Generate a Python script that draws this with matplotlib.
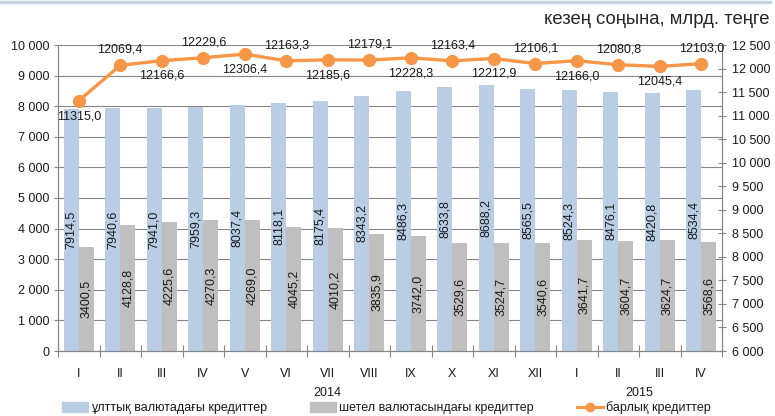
import matplotlib
matplotlib.use("Agg")
import matplotlib.pyplot as plt
from matplotlib.lines import Line2D
from matplotlib.patches import Patch
from matplotlib.ticker import FuncFormatter, MultipleLocator
import numpy as np

plt.rcParams["font.family"] = ["Liberation Sans", "DejaVu Sans"]

# Data
months = ["I", "II", "III", "IV", "V", "VI", "VII", "VIII", "IX", "X", "XI", "XII",
          "I", "II", "III", "IV"]
national = [7914.5, 7940.6, 7941.0, 7959.3, 8037.4, 8118.1, 8175.4, 8343.2, 8486.3,
            8633.8, 8688.2, 8565.5, 8524.3, 8476.1, 8420.8, 8534.4]
foreign = [3400.5, 4128.8, 4225.6, 4270.3, 4269.0, 4045.2, 4010.2, 3835.9, 3742.0,
           3529.6, 3524.7, 3540.6, 3641.7, 3604.7, 3624.7, 3568.6]
total = [11315.0, 12069.4, 12166.6, 12229.6, 12306.4, 12163.3, 12185.6, 12179.1,
         12228.3, 12163.4, 12212.9, 12106.1, 12166.0, 12080.8, 12045.4, 12103.0]
years = ["2014", "2015"]

legend_labels = ["ұлттық валютадағы кредиттер", "шетел валютасындағы кредиттер",
                 "барлық кредиттер"]

blue = "#B9CDE5"
gray = "#BFBFBF"
orange = "#F79646"
axis_col = "#868686"
text_col = "#1A1A1A"

fig = plt.figure(figsize=(7.75, 4.16), dpi=100)
ax = fig.add_axes([58 / 775, 1 - 351 / 416, (722 - 58) / 775, (351 - 45) / 416])
ax2 = ax.twinx()

x = np.arange(len(months))
w = 0.36
ax.bar(x - w / 2, national, w, color=blue, zorder=2)
ax.bar(x + w / 2, foreign, w, color=gray, zorder=2)

def fmt(v):
    return f"{v:.1f}".replace(".", ",")

for i in range(len(x)):
    ax.text(x[i] - w / 2, national[i] / 2, fmt(national[i]), rotation=90,
            ha="center", va="center", fontsize=9, color=text_col, zorder=3)
    ax.text(x[i] + w / 2, foreign[i] / 2, fmt(foreign[i]), rotation=90,
            ha="center", va="center", fontsize=9, color=text_col, zorder=3)

ax.set_xlim(-0.5, len(months) - 0.5)
ax.set_ylim(0, 10000)
ax.yaxis.set_major_locator(MultipleLocator(1000))
thousands = FuncFormatter(lambda v, p: f"{int(v):,}".replace(",", " "))
ax.yaxis.set_major_formatter(thousands)
ax.grid(axis="y", color=axis_col, linewidth=0.8, zorder=0)
ax.set_axisbelow(True)

# x axis: roman labels, boundary ticks
ax.set_xticks(x)
ax.set_xticklabels(months, fontsize=9, color=text_col)
ax.tick_params(axis="x", length=0, pad=12)
ax.set_xticks(np.arange(-0.5, len(months)), minor=True)
ax.tick_params(axis="x", which="minor", direction="inout", length=8,
               color=axis_col, width=0.8)
ax.tick_params(axis="y", direction="inout", length=6, color=axis_col, width=0.8,
               labelsize=9, labelcolor=text_col, pad=3)

for s in ["top"]:
    ax.spines[s].set_visible(False)
    ax2.spines[s].set_visible(False)
for s in ["left", "bottom", "right"]:
    ax.spines[s].set_color(axis_col)
    ax2.spines[s].set_color(axis_col)

ax.text(6.0, -1360, years[0], ha="center", va="center", fontsize=9, color=text_col)
ax.text(13.5, -1360, years[1], ha="center", va="center", fontsize=9, color=text_col)

# line on secondary axis
ax2.plot(x, total, color=orange, linewidth=2.4, marker="o", markersize=8.5, zorder=4)
ax2.set_ylim(6000, 12500)
ax2.yaxis.set_major_locator(MultipleLocator(500))
ax2.yaxis.set_major_formatter(thousands)
ax2.tick_params(axis="y", direction="inout", length=6, color=axis_col, width=0.8,
                labelsize=9, labelcolor=text_col, pad=4)

for i in range(len(x)):
    off = 11 if i % 2 == 1 else -11
    ax2.annotate(fmt(total[i]), (x[i], total[i]), xytext=(0, off),
                 textcoords="offset points", ha="center", va="center",
                 fontsize=9, color=text_col, zorder=5)

fig.text(770 / 775, 1 - 20 / 416, "кезең соңына, млрд. теңге", ha="right",
         va="center", fontsize=13.3, color="#262626")
fig.add_artist(Line2D([0, 770 / 775], [1 - 2 / 416, 1 - 2 / 416],
                      color="#C5D5E0", linewidth=2.5, transform=fig.transFigure))

handles = [Patch(color=blue), Patch(color=gray),
           Line2D([], [], color=orange, linewidth=2.2, marker="o", markersize=6)]
fig.legend(handles, legend_labels, loc="center left", ncol=3,
           bbox_to_anchor=(62 / 775, 1 - 408 / 416), frameon=False, fontsize=9,
           handlelength=2.1, handleheight=0.8, handletextpad=0.25,
           columnspacing=3.4, borderpad=0, borderaxespad=0,
           labelcolor=text_col)

fig.savefig("out.png", dpi=100)
